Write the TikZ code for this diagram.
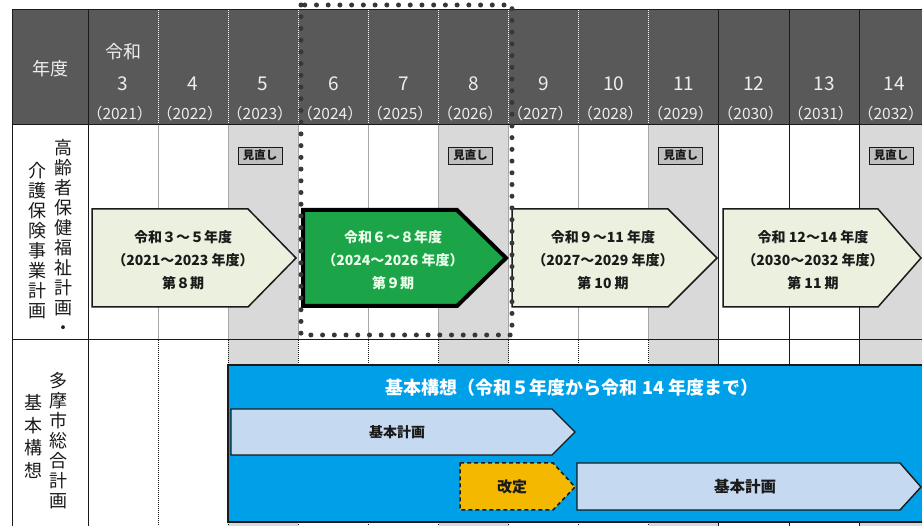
\documentclass[tikz,border=0pt]{standalone}
\usepackage{fontspec}
\setmainfont{Noto Sans CJK JP}
\definecolor{hdrfill}{HTML}{595959}
\definecolor{hdrtext}{HTML}{EEEEEE}
\definecolor{greycol}{HTML}{D9D9D9}
\definecolor{lgreen}{HTML}{EBF1DE}
\definecolor{dgreen}{HTML}{1BA548}
\definecolor{skyblue}{HTML}{00A0E9}
\definecolor{lblue}{HTML}{C5D9F1}
\definecolor{gold}{HTML}{F5B800}
\definecolor{mnfill}{HTML}{BFBFBF}
\definecolor{inkc}{HTML}{1A1A1A}
\definecolor{dotc}{HTML}{383838}
\begin{document}
\begin{tikzpicture}[x=1pt,y=-1pt,
  hdr/.style={text=hdrtext, inner sep=0pt},
  gridsolid/.style={draw=inkc, line width=1pt},
  gridlight/.style={draw=black!35, line width=0.8pt},
  griddot/.style={draw=inkc, line width=0.8pt, dash pattern=on 1pt off 1pt},
  hdrdot/.style={draw=white, line width=0.8pt, dash pattern=on 1pt off 1pt},
  lbl/.style={align=center, inner sep=0pt, text=inkc, font=\fontsize{18}{20}\selectfont},
  arrtxt/.style={align=center, inner sep=0pt, text=inkc, font=\fontsize{14}{23}\selectfont\bfseries},
  mnbox/.style={draw=inkc, fill=mnfill, line width=0.9pt, minimum width=44pt, minimum height=17pt, inner sep=0pt, font=\fontsize{11.5}{12}\selectfont\bfseries, text=inkc},
  planarrow/.style={fill=lgreen, draw=inkc, line width=1.5pt, line join=miter},
  dotframe/.style={draw=dotc, line width=5pt, dash pattern=on 0pt off 11.72pt, line cap=round}
]
\useasboundingbox (0,0) rectangle (922,526);
\clip (0,0) rectangle (922,526);
\fill[white] (0,0) rectangle (922,526);
% header
\fill[hdrfill] (12,10) rectangle (922,125);
% grey columns
\foreach \i in {2,5,8,11}
  \fill[greycol] ({88+70.1*\i},125) rectangle ({88+70.1*(\i+1)},526);
% grid lines
\foreach \i in {1,...,8} {
  \draw[hdrdot] ({88+70.1*\i},10) -- ({88+70.1*\i},125);
  \draw[gridlight] ({88+70.1*\i},125) -- ({88+70.1*\i},340);
  \draw[griddot] ({88+70.1*\i},340) -- ({88+70.1*\i},526);
}
\foreach \i in {0,9,10,11}
  \draw[gridsolid] ({88+70.1*\i},10) -- ({88+70.1*\i},526);
\draw[gridsolid] (12,10) -- (922,10);
\draw[gridsolid] (12,125) -- (922,125);
\draw[gridsolid] (12,340) -- (922,340);
\draw[gridsolid] (12,10) -- (12,526);
% header texts
\node[hdr, font=\fontsize{18}{18}\selectfont] (nendo) at (50,69) {年度};
\node[hdr, font=\fontsize{18}{18}\selectfont] (reiwa) at (123,52) {令和};
\foreach \n [count=\i from 0] in {3,...,14} {
  \pgfmathtruncatemacro\yr{2018+\n}
  \node[hdr, font=\fontsize{19}{19}\selectfont] (num\i) at ({123+70.1*\i},84) {\n};
  \node[hdr, font=\fontsize{15.5}{16}\selectfont] (yr\i) at ({123+70.1*\i},114) {\hspace{-0.42em}（\yr）\hspace{-0.42em}};
}
% row labels
\node[lbl, anchor=north] (lab1a) at (63,139) {高\\齢\\者\\保\\健\\福\\祉\\計\\画\\・};
\node[lbl, anchor=north] (lab1b) at (37,162) {介\\護\\保\\険\\事\\業\\計\\画};
\node[lbl, anchor=north] (lab2a) at (58,372) {多\\摩\\市\\総\\合\\計\\画};
\node[lbl, anchor=north, font=\fontsize{18}{22.7}\selectfont] (lab2b) at (33,394) {基\\本\\構\\想};
% review boxes
\foreach \i in {2,5,8,11}
  \node[mnbox] (mn\i) at ({88+70.1*\i+32},155.5) {見直し};
% plan arrows row 1
\draw[planarrow] (92,209) -- (248,209) -- (296,258) -- (248,307) -- (92,307) -- cycle;
\draw[fill=dgreen, draw=black, line width=4pt, line join=miter] (303,210) -- (457,210) -- (506,258) -- (457,306) -- (303,306) -- cycle;
\draw[planarrow] (512,209) -- (668,209) -- (717,258) -- (668,307) -- (512,307) -- cycle;
\draw[planarrow] (723,209) -- (878,209) -- (921,258) -- (878,307) -- (723,307) -- cycle;
\node[arrtxt] (p8) at (183,260) {令和３～５年度\\（2021～2023 年度）\\第８期};
\node[arrtxt, text=green!8!white] (p9) at (393,260) {令和６～８年度\\（2024～2026 年度）\\第９期};
\node[arrtxt] (p10) at (603,260) {令和９～11 年度\\（2027～2029 年度）\\第 10 期};
\node[arrtxt] (p11) at (813,260) {令和 12～14 年度\\（2030～2032 年度）\\第 11 期};
% dotted frame
\draw[dotframe] (301,5) rectangle (512,335);
% row 2
\draw[fill=skyblue, draw=inkc, line width=1.5pt] (228,365) rectangle (935,522);
\node[inner sep=0pt, text=white, font=\fontsize{18}{18}\selectfont\bfseries] (kousou) at (572,388) {基本構想（令和５年度から令和 14 年度まで）};
\draw[fill=lblue, draw=inkc, line width=1.4pt] (231,409) -- (552,409) -- (575,432) -- (552,455) -- (231,455) -- cycle;
\node[inner sep=0pt, text=inkc, font=\fontsize{14}{14}\selectfont\bfseries] (keikaku1) at (397,432) {基本計画};
\draw[fill=gold, draw=inkc, line width=1.5pt, dash pattern=on 4pt off 3pt] (460,463) -- (553,463) -- (575,487) -- (553,510) -- (460,510) -- cycle;
\node[inner sep=0pt, text=inkc, font=\fontsize{15}{15}\selectfont\bfseries] (kaitei) at (512,487) {改定};
\draw[fill=lblue, draw=inkc, line width=1.4pt] (577,463) -- (900,463) -- (921,487) -- (900,510) -- (577,510) -- cycle;
\node[inner sep=0pt, text=inkc, font=\fontsize{15.5}{15.5}\selectfont\bfseries] (keikaku2) at (745,487) {基本計画};
\end{tikzpicture}
\end{document}
